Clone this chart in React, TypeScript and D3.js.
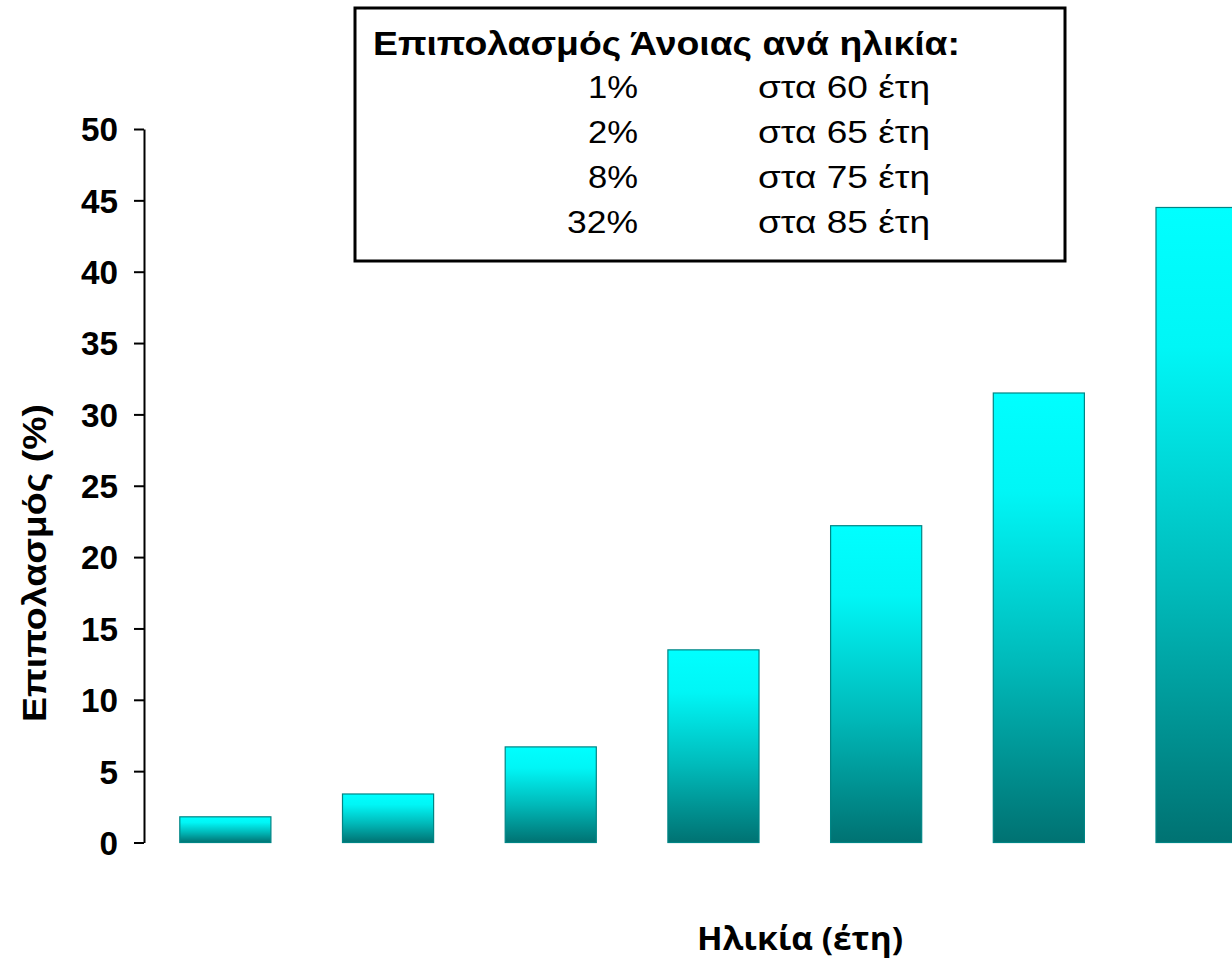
import { useEffect, useRef } from "react";
import * as d3 from "d3";

// age groups (x categories have no printed labels in the original)
const ageGroups = ["60-64", "65-69", "70-74", "75-79", "80-84", "85-89", "90-94"];
const prevalence = [1.8, 3.4, 6.7, 13.5, 22.2, 31.5, 44.5];
const yTicks = [0, 5, 10, 15, 20, 25, 30, 35, 40, 45, 50];

const legendTitle = "Επιπολασμός Άνοιας ανά ηλικία:";
const legendPercents = ["1%", "2%", "8%", "32%"];
const legendAges = ["στα 60 έτη", "στα 65 έτη", "στα 75 έτη", "στα 85 έτη"];

const yTitle = "Επιπολασμός (%)";
const xTitle = "Ηλικία (έτη)";

const WIDTH = 1232;
const HEIGHT = 961;
const ARIAL = "'Liberation Sans', Arial, sans-serif";

export default function App() {
  const svgRef = useRef<SVGSVGElement | null>(null);

  useEffect(() => {
    if (!svgRef.current) return;
    const svg = d3.select(svgRef.current);
    svg.selectAll("*").remove();

    const axisX = 144;
    const top = 129;
    const bottom = 842.5;

    const x = d3
      .scaleBand<string>()
      .domain(ageGroups)
      .range([axisX, axisX + 7 * 162.7])
      .paddingInner(0.44)
      .paddingOuter(0.22);

    const y = d3.scaleLinear().domain([0, 50]).range([bottom, top]);

    const defs = svg.append("defs");
    const grad = defs
      .append("linearGradient")
      .attr("id", "barGrad")
      .attr("x1", 0)
      .attr("y1", 0)
      .attr("x2", 0)
      .attr("y2", 1);
    grad.append("stop").attr("offset", 0).attr("stop-color", "#00ffff");
    grad.append("stop").attr("offset", 0.22).attr("stop-color", "#00f6f6");
    grad.append("stop").attr("offset", 0.6).attr("stop-color", "#00baba");
    grad.append("stop").attr("offset", 1).attr("stop-color", "#007272");

    // bars
    svg
      .append("g")
      .selectAll("rect")
      .data(prevalence)
      .enter()
      .append("rect")
      .attr("x", (_d: number, i: number) => x(ageGroups[i]) || 0)
      .attr("width", x.bandwidth())
      .attr("y", (d: number) => y(d))
      .attr("height", (d: number) => y(0) - y(d))
      .attr("fill", "url(#barGrad)")
      .attr("stroke", "#008585")
      .attr("stroke-width", 1.2);

    // y axis
    const yAxis = svg
      .append("g")
      .attr("transform", `translate(${axisX},0)`)
      .call(
        d3
          .axisLeft(y)
          .tickValues(yTicks)
          .tickSize(10)
          .tickSizeOuter(0)
          .tickPadding(16)
          .tickFormat((v: number) => String(v))
      );
    yAxis.select(".domain").attr("stroke", "#000").attr("stroke-width", 2);
    yAxis.selectAll(".tick line").attr("stroke", "#000").attr("stroke-width", 2);
    yAxis
      .selectAll(".tick text")
      .attr("font-family", ARIAL)
      .attr("font-weight", "bold")
      .attr("font-size", 33)
      .attr("fill", "#000")
      .attr("dy", "0.36em")
      .attr("textLength", (v: number) => String(v).length * 18.5)
      .attr("lengthAdjust", "spacingAndGlyphs");

    // y title
    svg
      .append("text")
      .attr("transform", `translate(46,563) rotate(-90)`)
      .attr("text-anchor", "middle")
      .attr("font-family", ARIAL)
      .attr("font-weight", "bold")
      .attr("font-size", 34)
      .attr("textLength", 318)
      .attr("lengthAdjust", "spacingAndGlyphs")
      .text(yTitle);

    // x title
    svg
      .append("text")
      .attr("x", 800)
      .attr("y", 950)
      .attr("text-anchor", "middle")
      .attr("font-family", "'Open Sans', sans-serif")
      .attr("font-weight", "bold")
      .attr("font-size", 33)
      .attr("textLength", 206)
      .attr("lengthAdjust", "spacingAndGlyphs")
      .text(xTitle);

    // legend box
    const lg = svg.append("g");
    lg.append("rect")
      .attr("x", 355)
      .attr("y", 8)
      .attr("width", 710)
      .attr("height", 253)
      .attr("fill", "#fff")
      .attr("stroke", "#000")
      .attr("stroke-width", 3);
    lg.append("text")
      .attr("x", 373)
      .attr("y", 55)
      .attr("font-family", ARIAL)
      .attr("font-weight", "bold")
      .attr("font-size", 33)
      .attr("textLength", 587)
      .attr("lengthAdjust", "spacingAndGlyphs")
      .text(legendTitle);
    lg.selectAll("text.pct")
      .data(legendPercents)
      .enter()
      .append("text")
      .attr("class", "pct")
      .attr("x", 638)
      .attr("y", (_d: string, i: number) => 98 + i * 45)
      .attr("text-anchor", "end")
      .attr("font-family", ARIAL)
      .attr("font-size", 31)
      .attr("textLength", (d: string) => 29 + (d.length - 1) * 21)
      .attr("lengthAdjust", "spacingAndGlyphs")
      .text((d: string) => d);
    lg.selectAll("text.age")
      .data(legendAges)
      .enter()
      .append("text")
      .attr("class", "age")
      .attr("x", 758)
      .attr("y", (_d: string, i: number) => 98 + i * 45)
      .attr("font-family", ARIAL)
      .attr("font-size", 31)
      .attr("textLength", 172)
      .attr("lengthAdjust", "spacingAndGlyphs")
      .text((d: string) => d);
  }, []);

  return (
    <div style={{ position: "absolute", left: 0, top: 0 }}>
      <svg ref={svgRef} width={WIDTH} height={HEIGHT} style={{ display: "block", background: "#fff" }} />
    </div>
  );
}
